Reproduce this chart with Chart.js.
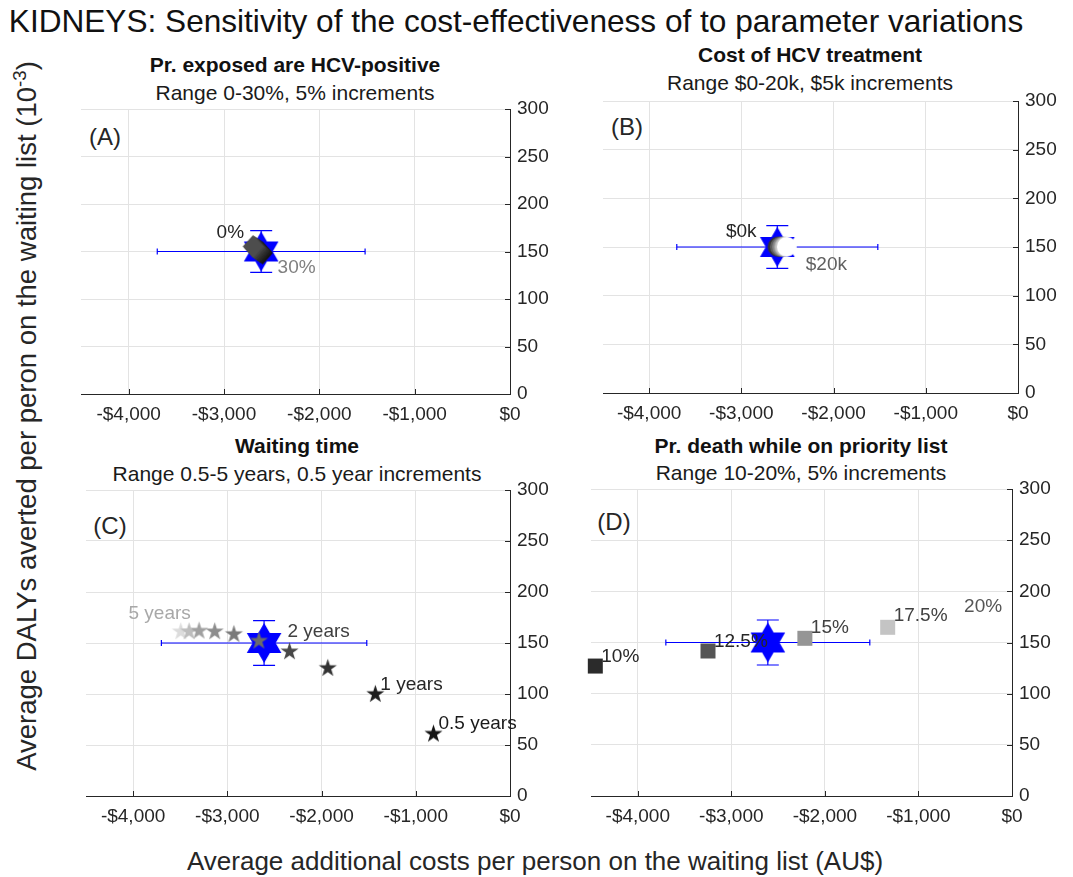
<!DOCTYPE html>
<html lang="en">
<head>
<meta charset="UTF-8">
<title>KIDNEYS sensitivity</title>
<script src="https://cdn.jsdelivr.net/npm/chart.js@4.4.1/dist/chart.umd.min.js"></script>
<style>
  body { margin: 0; width: 1073px; height: 877px; position: relative; overflow: hidden; background: #fff;
         font-family: "Liberation Sans", Arial, sans-serif; color: #262626; }
  .txt { position: absolute; white-space: nowrap; line-height: 1; transform: translate(-50%, -50%); }
  .bold { font-weight: bold; color: #111; }
  canvas { position: absolute; }
  sup { font-size: 0.68em; vertical-align: 0.55em; line-height: 0; }
</style>
</head>
<body>
<div class="txt" style="left:516px;top:22px;font-size:31.6px;color:#111">KIDNEYS: Sensitivity of the cost-effectiveness of to parameter variations</div>
<div class="txt" style="left:27px;top:416px;font-size:27.5px;transform:translate(-50%,-50%) rotate(-90deg)">Average DALYs averted per peron on the waiting list (10<sup>-3</sup>)</div>
<div class="txt" style="left:535px;top:861px;font-size:26px">Average additional costs per person on the waiting list (AU$)</div>

<div class="txt bold" style="left:295px;top:64px;font-size:21px">Pr. exposed are HCV-positive</div>
<div class="txt" style="left:295px;top:92px;font-size:21px;color:#1a1a1a">Range 0-30%, 5% increments</div>
<div class="txt bold" style="left:810px;top:54px;font-size:21px">Cost of HCV treatment</div>
<div class="txt" style="left:810px;top:82px;font-size:21px;color:#1a1a1a">Range $0-20k, $5k increments</div>
<div class="txt bold" style="left:297px;top:445px;font-size:21px">Waiting time</div>
<div class="txt" style="left:297px;top:473px;font-size:21px;color:#1a1a1a">Range 0.5-5 years, 0.5 year increments</div>
<div class="txt bold" style="left:801px;top:445px;font-size:21px">Pr. death while on priority list</div>
<div class="txt" style="left:801px;top:472px;font-size:21px;color:#1a1a1a">Range 10-20%, 5% increments</div>

<div class="txt" style="left:105px;top:137px;font-size:24px">(A)</div>
<div class="txt" style="left:627px;top:127px;font-size:24px">(B)</div>
<div class="txt" style="left:110px;top:526px;font-size:24px">(C)</div>
<div class="txt" style="left:614px;top:522px;font-size:24px">(D)</div>

<canvas id="panelA"></canvas>
<canvas id="panelB"></canvas>
<canvas id="panelC"></canvas>
<canvas id="panelD"></canvas>

<script>
// axis ticks
const xTicks = [-4000, -3000, -2000, -1000, 0];
const yTicks = [0, 50, 100, 150, 200, 250, 300];

// base case (blue star) with its uncertainty range
const baseX = -2610;
const baseY = 150;
const baseErrX = [-3700, -1520];
const baseErrY = [128, 172];

// (A) proportion exposed HCV-positive
const hcvLabels = ['0%', '5%', '10%', '15%', '20%', '25%', '30%'];
const hcvX = [-2695, -2678, -2662, -2645, -2628, -2612, -2595];
const hcvY = [155.3, 154.2, 153.0, 151.9, 150.7, 149.6, 148.4];

// (B) cost of HCV treatment
const costLabels = ['$0k', '$5k', '$10k', '$15k', '$20k'];
const costX = [-2607, -2582, -2557, -2532, -2507];
const costY = [150.3, 150.3, 150.3, 150.3, 150.3];

// (C) waiting time
const waitLabels = ['0.5 years', '1 years', '1.5 years', '2 years', '2.5 years',
                    '3 years', '3.5 years', '4 years', '4.5 years', '5 years'];
const waitX = [-812, -1429, -1934, -2340, -2665, -2930, -3134, -3300, -3406, -3494];
const waitY = [60.8, 99.7, 125.2, 141.5, 152.0, 158.5, 161.1, 161.8, 161.1, 161.1];

// (D) probability of death while on priority list
const deathLabels = ['10%', '12.5%', '15%', '17.5%', '20%'];
const deathX = [-4454, -3250, -2214, -1329, -576];
const deathY = [127.0, 141.7, 154.1, 164.9, 175.0];

// marker shades
const hcvColors = ['#4d4d4d', '#444444', '#3a3a3a', '#303030', '#272727', '#1e1e1e', '#151515'];
const costColors = ['#333333', '#5e5e5e', '#8a8a8a', '#c0c0c0', '#ffffff'];
const waitColors = ['#141414', '#1e1e1e', '#333333', '#474747', '#6b6b6b',
                    '#7a7a7a', '#8c8c8c', '#a0a0a0', '#bdbdbd', '#dcdcdc'];
const deathColors = ['#2b2b2b', '#555555', '#959595', '#c4c4c4', '#ffffff'];

const FONT = '"Liberation Sans", Arial, sans-serif';
const BLUE = '#0000ff';
const PAD_TOP = 25;

function makeMarker(shape, r, color) {
  const s = Math.ceil(r * 2 + 4);
  const c = document.createElement('canvas');
  c.width = c.height = s;
  const g = c.getContext('2d');
  g.translate(s / 2, s / 2);
  g.fillStyle = color;
  g.beginPath();
  if (shape === 'circle') {
    g.arc(0, 0, r, 0, Math.PI * 2);
  } else if (shape === 'square') {
    g.rect(-r, -r, 2 * r, 2 * r);
  } else if (shape === 'diamond') {
    g.moveTo(0, -r); g.lineTo(r * 0.9, 0); g.lineTo(0, r); g.lineTo(-r * 0.9, 0); g.closePath();
  } else {
    const n = shape === 'pentagram' ? 5 : 6;
    const inner = n === 5 ? r * 0.382 : r / Math.sqrt(3);
    for (let i = 0; i < 2 * n; i++) {
      const a = -Math.PI / 2 + i * Math.PI / n;
      const rr = i % 2 ? inner : r;
      g.lineTo(rr * Math.cos(a), rr * Math.sin(a));
    }
    g.closePath();
  }
  g.fill();
  return c;
}

const money = v => v === 0 ? '$0' : '-$' + Math.abs(v).toLocaleString('en-US');

// error bars under everything, labels on top
const extras = {
  id: 'extras',
  beforeDatasetsDraw(chart) {
    const { ctx, scales: { x, y } } = chart;
    const px = x.getPixelForValue(baseX), py = y.getPixelForValue(baseY);
    const x0 = x.getPixelForValue(baseErrX[0]), x1 = x.getPixelForValue(baseErrX[1]);
    const y0 = y.getPixelForValue(baseErrY[0]), y1 = y.getPixelForValue(baseErrY[1]);
    ctx.save();
    ctx.strokeStyle = BLUE;
    ctx.lineWidth = 1.2;
    ctx.beginPath();
    ctx.moveTo(x0, py); ctx.lineTo(x1, py);
    ctx.moveTo(x0, py - 3); ctx.lineTo(x0, py + 3);
    ctx.moveTo(x1, py - 3); ctx.lineTo(x1, py + 3);
    ctx.moveTo(px, y0); ctx.lineTo(px, y1);
    ctx.moveTo(px - 11, y0); ctx.lineTo(px + 11, y0);
    ctx.moveTo(px - 11, y1); ctx.lineTo(px + 11, y1);
    ctx.stroke();
    ctx.restore();
  },
  afterDatasetsDraw(chart) {
    const { ctx, chartArea, scales: { x, y } } = chart;
    const p = chart.options.plugins.extras;
    ctx.save();
    // inward tick marks
    ctx.strokeStyle = '#262626';
    ctx.lineWidth = 1;
    ctx.beginPath();
    xTicks.forEach(v => {
      const xp = Math.round(x.getPixelForValue(v)) + 0.5;
      ctx.moveTo(xp, chartArea.bottom); ctx.lineTo(xp, chartArea.bottom - 5);
    });
    yTicks.forEach(v => {
      const yp = Math.round(y.getPixelForValue(v)) + 0.5;
      ctx.moveTo(chartArea.right, yp); ctx.lineTo(chartArea.right - 5, yp);
    });
    ctx.stroke();
    // point labels
    ctx.font = '19px ' + FONT;
    ctx.textBaseline = 'middle';
    p.labels.forEach(l => {
      const xp = x.getPixelForValue(p.xs[l.i]), yp = y.getPixelForValue(p.ys[l.i]);
      ctx.fillStyle = l.color;
      ctx.textAlign = l.align;
      ctx.fillText(p.names[l.i], xp + l.dx, yp + l.dy);
    });
    ctx.restore();
  }
};

const baseStar = makeMarker('hexagram', 20, BLUE);

// box = plot area (left, top, right, bottom) in page pixels
function panel(id, box, xs, ys, names, colors, shape, r, order, labels) {
  const el = document.getElementById(id);
  el.width = (box.right - box.left) + 20 + 50;
  el.height = (box.bottom - box.top) + PAD_TOP + 40;
  el.style.left = (box.left - 20) + 'px';
  el.style.top = (box.top - PAD_TOP) + 'px';
  const pts = order.map(i => ({ x: xs[i], y: ys[i] }));
  const styles = order.map(i => makeMarker(shape, r, colors[i]));
  new Chart(el, {
    type: 'scatter',
    data: {
      datasets: [
        { data: pts, pointStyle: styles, pointRadius: 12, clip: false },
        { data: [{ x: baseX, y: baseY }], pointStyle: baseStar, pointRadius: 20, clip: false }
      ]
    },
    options: {
      responsive: false,
      animation: false,
      events: [],
      layout: { padding: { top: PAD_TOP, left: 20, right: 0, bottom: 0 } },
      plugins: {
        legend: { display: false },
        tooltip: { enabled: false },
        extras: { xs, ys, names, labels }
      },
      scales: {
        x: {
          type: 'linear', min: -4500, max: 0,
          afterBuildTicks: s => { s.ticks = xTicks.map(v => ({ value: v })); },
          afterFit: s => { s.height = 40; },
          ticks: { callback: money, color: '#262626', font: { family: FONT, size: 19 }, padding: 9, maxRotation: 0, autoSkip: false },
          grid: { color: '#e3e3e3', drawTicks: false },
          border: { display: true, color: '#262626', width: 1 }
        },
        y: {
          type: 'linear', position: 'right', min: 0, max: 300,
          afterBuildTicks: s => { s.ticks = yTicks.map(v => ({ value: v })); },
          afterFit: s => { s.width = 50; },
          ticks: { color: '#262626', font: { family: FONT, size: 19 }, padding: 7 },
          grid: { color: '#e3e3e3', drawTicks: false },
          border: { display: true, color: '#262626', width: 1 }
        }
      }
    },
    plugins: [extras]
  });
}

panel('panelA', { left: 80, top: 109, right: 510, bottom: 394 }, hcvX, hcvY, hcvLabels, hcvColors,
  'diamond', 11.5, [6, 5, 4, 3, 2, 1, 0],
  [{ i: 0, dx: -9, dy: -14, align: 'right', color: '#262626' },
   { i: 6, dx: 15, dy: 15, align: 'left', color: '#808080' }]);

panel('panelB', { left: 602, top: 101, right: 1018, bottom: 393 }, costX, costY, costLabels, costColors,
  'circle', 10, [0, 1, 2, 3, 4],
  [{ i: 0, dx: -21, dy: -15, align: 'right', color: '#262626' },
   { i: 4, dx: 19, dy: 18, align: 'left', color: '#606060' }]);

panel('panelC', { left: 85, top: 490, right: 510, bottom: 796 }, waitX, waitY, waitLabels, waitColors,
  'pentagram', 9.5, [9, 8, 7, 6, 5, 4, 3, 2, 1, 0],
  [{ i: 9, dx: 10, dy: -18, align: 'right', color: '#a8a8a8' },
   { i: 3, dx: -2, dy: -20, align: 'left', color: '#404040' },
   { i: 1, dx: 5, dy: -10, align: 'left', color: '#262626' },
   { i: 0, dx: 5, dy: -10, align: 'left', color: '#1a1a1a' }]);

panel('panelD', { left: 590, top: 489, right: 1012, bottom: 796 }, deathX, deathY, deathLabels, deathColors,
  'square', 7.5, [0, 1, 2, 3, 4],
  [{ i: 0, dx: 6, dy: -9, align: 'left', color: '#262626' },
   { i: 1, dx: 6, dy: -9, align: 'left', color: '#262626' },
   { i: 2, dx: 6, dy: -11, align: 'left', color: '#404040' },
   { i: 3, dx: 6, dy: -11, align: 'left', color: '#404040' },
   { i: 4, dx: 6, dy: -10, align: 'left', color: '#555555' }]);
</script>
</body>
</html>
